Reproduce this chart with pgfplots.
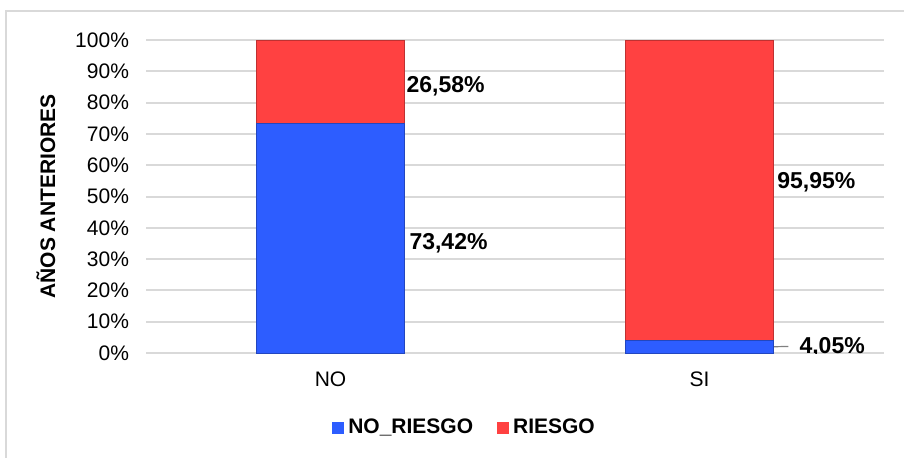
\documentclass[border=0pt]{standalone}
\usepackage{pgfplots}
\pgfplotsset{compat=1.18}
\usepackage{fontspec}
\setmainfont{Liberation Sans}
\definecolor{barblue}{RGB}{45,93,255}
\definecolor{barred}{RGB}{255,65,65}
\definecolor{gridgray}{RGB}{217,217,217}
\begin{document}
\begin{tikzpicture}
\useasboundingbox (0,0) rectangle (452pt,228.5pt);
\draw[gridgray, line width=1pt] (3pt,-2pt) -- (3pt,223pt) -- (455pt,223pt);
\begin{axis}[
  at={(73pt,52pt)}, anchor=south west,
  scale only axis, width=369pt, height=156.5pt,
  ybar stacked, bar width=74pt,
  xmin=-0.5, xmax=1.5, ymin=0, ymax=100,
  xtick={0,1}, xticklabels={NO,SI},
  ytick={0,10,...,100},
  yticklabel={\pgfmathprintnumber{\tick}\%},
  /pgf/number format/assume math mode=true,
  tick style={draw=none},
  axis line style={draw=none},
  ymajorgrids, grid style={gridgray, line width=1pt},
  tick label style={font=\fontsize{10.5}{12}\selectfont},
  yticklabel style={xshift=-5pt},
  xticklabel style={yshift=-6pt},
  ylabel={\bfseries AÑOS ANTERIORES},
  ylabel style={font=\fontsize{10.5}{12}\selectfont, at={(axis description cs:-0.1355,0.5)}, anchor=center, rotate=0},
  legend style={at={(axis description cs:0.433,-0.24)}, anchor=center, draw=none, fill=none,
    legend columns=2, font=\fontsize{10.5}{12}\selectfont\bfseries,
    /tikz/every even column/.append style={column sep=10pt}},
  legend image code/.code={\draw[#1, draw=none] (0pt,-3pt) rectangle (6pt,3pt);},
]
\addplot[fill=barblue, draw=barblue!75!black, line width=0.5pt] coordinates {(0,73.42) (1,4.05)};
\addplot[fill=barred, draw=barred!75!black, line width=0.5pt] coordinates {(0,26.58) (1,95.95)};
\legend{NO\_RIESGO, RIESGO}
\node[anchor=west, font=\fontsize{11.5}{13}\selectfont\bfseries, inner sep=0pt] at (axis cs:0.205,85.3) {26,58\%};
\node[anchor=west, font=\fontsize{11.5}{13}\selectfont\bfseries, inner sep=0pt] at (axis cs:0.213,35.1) {73,42\%};
\node[anchor=west, font=\fontsize{11.5}{13}\selectfont\bfseries, inner sep=0pt] at (axis cs:1.21,54.6) {95,95\%};
\node[anchor=west, font=\fontsize{11.5}{13}\selectfont\bfseries, inner sep=0pt] at (axis cs:1.27,1.9) {4,05\%};
\draw[gray, line width=0.6pt] (axis cs:1.2,2.0) -- (axis cs:1.241,2.1);
\end{axis}
\end{tikzpicture}
\end{document}
